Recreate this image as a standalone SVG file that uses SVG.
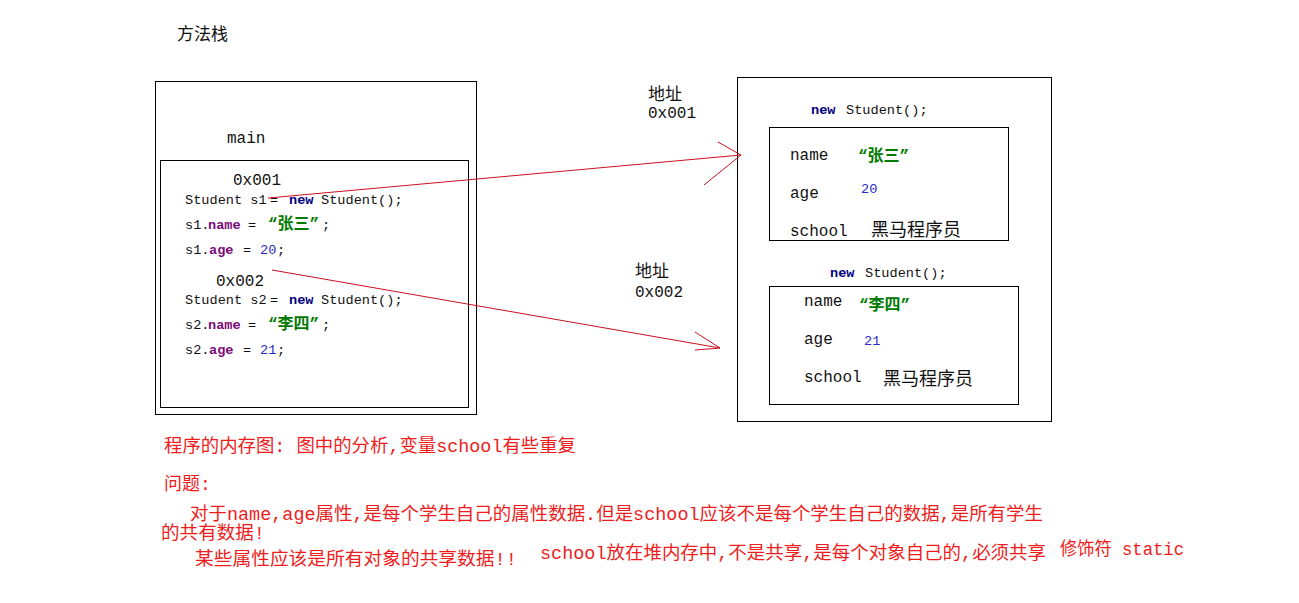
<svg xmlns="http://www.w3.org/2000/svg" width="1299" height="603" viewBox="0 0 1299 603">
<style>
text{font-family:"Liberation Mono","Noto Sans CJK SC",monospace;fill:#111}
.code{font-size:13.6px}
.lbl{font-size:16px}
.kw{font-weight:bold;fill:#000080}
.fld{font-weight:bold;fill:#7a0a7a}
.str{font-weight:bold;fill:#007a00;font-size:16px}
.num{fill:#2a2ac8}
.cn{font-family:"Noto Sans CJK SC","Liberation Sans",sans-serif;font-size:17px}
.red{fill:#ee1c1c;font-size:18px}
.box{fill:none;stroke:#000;stroke-width:1}
.conn{fill:none;stroke:#cc1020;stroke-width:1}
</style>
<rect width="1299" height="603" fill="#fff"/>
<text class="cn" x="177" y="40">方法栈</text>
<g id="stack">
<rect class="box" x="155.5" y="81.5" width="321" height="333"/>
<text class="lbl" x="227" y="143">main</text>
<rect class="box" x="160.5" y="160.5" width="308" height="247"/>
<text class="lbl" x="233" y="185">0x001</text>
<text class="code" y="204"><tspan x="185">Student s1</tspan><tspan x="270">=</tspan><tspan x="289" class="kw">new</tspan><tspan x="321">Student();</tspan></text>
<text class="code" y="229"><tspan x="185">s1.</tspan><tspan x="208" class="fld">name</tspan><tspan x="248">=</tspan><tspan x="268" class="str">“张三”</tspan><tspan x="322">;</tspan></text>
<text class="code" y="254"><tspan x="185">s1.</tspan><tspan x="209" class="fld">age</tspan><tspan x="243">=</tspan><tspan x="260" class="num">20</tspan><tspan x="277">;</tspan></text>
<text class="lbl" x="216" y="286">0x002</text>
<text class="code" y="304"><tspan x="185">Student s2</tspan><tspan x="270">=</tspan><tspan x="289" class="kw">new</tspan><tspan x="321">Student();</tspan></text>
<text class="code" y="329"><tspan x="185">s2.</tspan><tspan x="208" class="fld">name</tspan><tspan x="248">=</tspan><tspan x="268" class="str">“李四”</tspan><tspan x="322">;</tspan></text>
<text class="code" y="354"><tspan x="185">s2.</tspan><tspan x="209" class="fld">age</tspan><tspan x="243">=</tspan><tspan x="260" class="num">21</tspan><tspan x="277">;</tspan></text>
</g>
<g id="addr1">
<text class="cn" x="648" y="100">地址</text>
<text class="lbl" x="648" y="118">0x001</text>
</g>
<g id="addr2">
<text class="cn" x="635" y="277">地址</text>
<text class="lbl" x="635" y="297">0x002</text>
</g>
<g id="heap">
<rect class="box" x="737.5" y="77.5" width="314" height="344"/>
</g>
<g id="obj1">
<text class="code" y="114"><tspan x="811" class="kw">new</tspan><tspan x="846">Student();</tspan></text>
<rect class="box" x="769.5" y="127.5" width="239" height="113"/>
<text class="lbl" x="790" y="160">name</text>
<text class="str" x="858" y="161">“张三”</text>
<text class="lbl" x="790" y="198">age</text>
<text class="code num" x="861" y="193">20</text>
<text class="lbl" x="790" y="236">school</text>
<text class="cn" x="871" y="236" style="font-size:18px">黑马程序员</text>
</g>
<g id="obj2">
<text class="code" y="277"><tspan x="830" class="kw">new</tspan><tspan x="865">Student();</tspan></text>
<rect class="box" x="769.5" y="286.5" width="249" height="118"/>
<text class="lbl" x="804" y="306">name</text>
<text class="str" x="859" y="310">“李四”</text>
<text class="lbl" x="804" y="344">age</text>
<text class="code num" x="864" y="345">21</text>
<text class="lbl" x="804" y="382">school</text>
<text class="cn" x="883" y="385" style="font-size:18px">黑马程序员</text>
</g>
<g id="connectors">
<path class="conn" d="M268 198 L741 155 M718 142 L741 155 L704 185"/>
<path class="conn" d="M272 270 L720 348 M695 332 L720 348 L695 350"/>
</g>
<g id="notes">
<text class="red" x="164" y="452" textLength="412" lengthAdjust="spacingAndGlyphs">程序的内存图: 图中的分析,变量school有些重复</text>
<text class="red" x="164" y="490">问题:</text>
<text class="red" x="190" y="520" textLength="853" lengthAdjust="spacingAndGlyphs">对于name,age属性,是每个学生自己的属性数据.但是school应该不是每个学生自己的数据,是所有学生</text>
<text class="red" x="161" y="539" textLength="104" lengthAdjust="spacingAndGlyphs">的共有数据!</text>
<text class="red" x="195" y="565" textLength="322" lengthAdjust="spacingAndGlyphs">某些属性应该是所有对象的共享数据!!</text>
<text class="red" x="540" y="559" textLength="506" lengthAdjust="spacingAndGlyphs">school放在堆内存中,不是共享,是每个对象自己的,必须共享</text>
<text class="red" x="1060" y="555" textLength="124" lengthAdjust="spacingAndGlyphs">修饰符 static</text>
</g>
</svg>
